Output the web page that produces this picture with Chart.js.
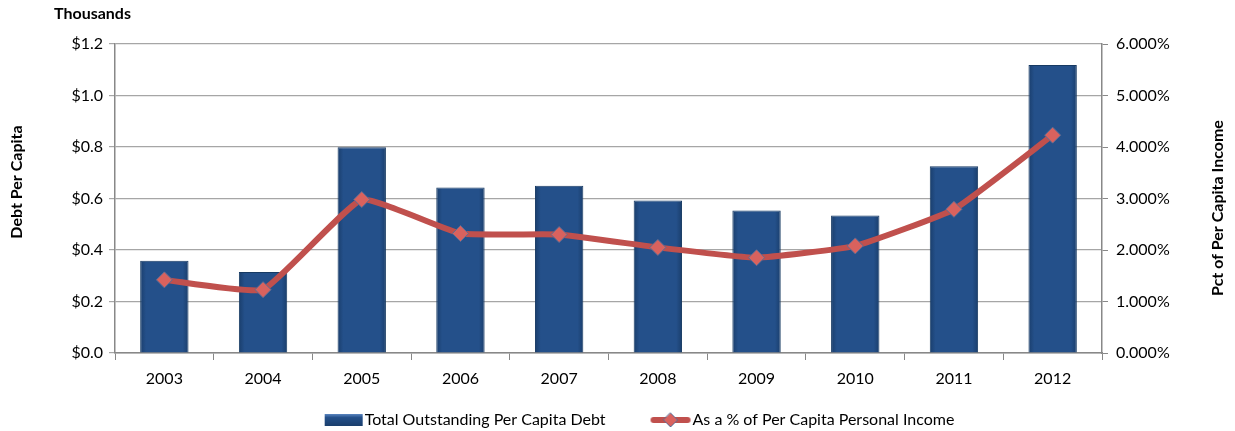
<!DOCTYPE html>
<html>
<head>
<meta charset="utf-8">
<script src="https://cdn.jsdelivr.net/npm/chart.js@4.4.0/dist/chart.umd.min.js"></script>
<style>
  html, body { margin: 0; padding: 0; background: #fff; }
  #wrap { width: 1235px; height: 431px; }
</style>
</head>
<body>
<div id="wrap"><canvas id="debt-chart" width="1235" height="431"></canvas></div>
<script>
/**
 * Data
 */
const years = ['2003', '2004', '2005', '2006', '2007', '2008', '2009', '2010', '2011', '2012'];
const debtPerCapita = [0.358, 0.315, 0.799, 0.643, 0.65, 0.592, 0.553, 0.534, 0.725, 1.118];
const pctOfIncome = [1.42, 1.23, 2.98, 2.32, 2.30, 2.05, 1.85, 2.08, 2.79, 4.23];

const unitsText = 'Thousands';
const leftTitle = 'Debt Per Capita';
const rightTitle = 'Pct of Per Capita Income';

/**
 * Helpers
 */
const FONT = 'Lato, "Open Sans", sans-serif';
const BAR_PCT = 0.49;

const barFill = (context) => {
  const chart = context.chart;
  const xs = chart.scales.x;
  if (!xs || !Number.isFinite(xs.width) || xs.width <= 0) return '#24508a';
  const cx = xs.getPixelForValue(context.dataIndex);
  const half = (xs.width / years.length) * BAR_PCT / 2;
  if (!Number.isFinite(cx)) return '#24508a';
  const g = chart.ctx.createLinearGradient(cx - half, 0, cx + half, 0);
  g.addColorStop(0, '#1a3e6c');
  g.addColorStop(0.12, '#24508a');
  g.addColorStop(0.88, '#24508a');
  g.addColorStop(1, '#1a3e6c');
  return g;
};

// legend icons sit at the right end of a wide image so the text follows closely
const makeIcon = (kind) => {
  const c = document.createElement('canvas');
  c.width = 92;
  c.height = 16;
  const x = c.getContext('2d');
  if (kind === 'bar') {
    const g = x.createLinearGradient(0, 2, 0, 14);
    g.addColorStop(0, '#5b86c0');
    g.addColorStop(0.3, '#24508a');
    g.addColorStop(1, '#1a3e6c');
    x.fillStyle = g;
    x.fillRect(52, 2, 38, 12);
  } else {
    const ox = 50;
    x.strokeStyle = '#c0504d';
    x.lineWidth = 6;
    x.lineCap = 'round';
    x.beginPath();
    x.moveTo(ox + 3, 8);
    x.lineTo(ox + 37, 8);
    x.stroke();
    x.fillStyle = '#d9625e';
    x.strokeStyle = '#5a6d96';
    x.lineWidth = 1;
    x.beginPath();
    x.moveTo(ox + 20, 1);
    x.lineTo(ox + 27, 8);
    x.lineTo(ox + 20, 15);
    x.lineTo(ox + 13, 8);
    x.closePath();
    x.fill();
    x.stroke();
  }
  return c;
};

const icons = [makeIcon('bar'), makeIcon('line')];

const extraText = {
  id: 'extraText',
  afterDraw(chart) {
    const ctx = chart.ctx;
    ctx.save();
    ctx.font = 'bold 16px ' + FONT;
    ctx.fillStyle = '#000';
    ctx.textBaseline = 'middle';
    ctx.fillText(unitsText, 54, 14);

    ctx.textAlign = 'center';
    ctx.translate(17, 182);
    ctx.rotate(-Math.PI / 2);
    ctx.fillText(leftTitle, 0, 0);
    ctx.restore();

    ctx.save();
    ctx.font = 'bold 16px ' + FONT;
    ctx.fillStyle = '#000';
    ctx.textBaseline = 'middle';
    ctx.textAlign = 'center';
    ctx.translate(1218, 208);
    ctx.rotate(-Math.PI / 2);
    ctx.fillText(rightTitle, 0, 0);
    ctx.restore();
  }
};

/**
 * Chart
 */
const createGraphic = () => {
  const ctx = document.getElementById('debt-chart').getContext('2d');

  new Chart(ctx, {
    data: {
      labels: years,
      datasets: [
        {
          type: 'bar',
          label: 'Total Outstanding Per Capita Debt',
          data: debtPerCapita,
          yAxisID: 'y',
          backgroundColor: barFill,
          borderColor: '#173a63',
          borderWidth: 1,
          barPercentage: 1,
          categoryPercentage: BAR_PCT,
          order: 1
        },
        {
          type: 'line',
          label: 'As a % of Per Capita Personal Income',
          data: pctOfIncome,
          yAxisID: 'y1',
          borderColor: '#c0504d',
          borderWidth: 6,
          tension: 0.12,
          pointStyle: 'rectRot',
          pointRadius: 8,
          pointBackgroundColor: '#d9625e',
          pointBorderColor: '#5a6d96',
          pointBorderWidth: 1,
          fill: false,
          order: 0
        }
      ]
    },
    options: {
      responsive: false,
      animation: false,
      layout: { padding: { top: 44, left: 0, right: 0, bottom: -7 } },
      plugins: {
        tooltip: { enabled: false },
        legend: {
          position: 'bottom',
          labels: {
            usePointStyle: true,
            pointStyleWidth: 76,
            padding: 3,
            color: '#000',
            font: { family: FONT, size: 16 },
            generateLabels: (chart) => chart.data.datasets.map((ds, i) => ({
              text: ds.label,
              pointStyle: icons[i],
              fillStyle: 'transparent',
              strokeStyle: 'transparent',
              lineWidth: 0,
              datasetIndex: i
            }))
          }
        }
      },
      scales: {
        x: {
          offset: true,
          grid: { offset: true, drawOnChartArea: false, drawTicks: true, tickLength: 7, color: '#888' },
          border: { color: '#888', width: 1.5 },
          ticks: { color: '#000', font: { family: FONT, size: 16 }, padding: 9 },
          afterFit: (s) => { s.height = 56; }
        },
        y: {
          position: 'left',
          min: 0,
          max: 1.2,
          ticks: {
            stepSize: 0.2,
            color: '#000',
            font: { family: FONT, size: 16 },
            padding: 6,
            callback: (v) => '$' + Number(v).toFixed(1)
          },
          grid: { color: '#a6a6a6', lineWidth: 1.2, tickLength: 6 },
          border: { color: '#888', width: 1.5 },
          afterFit: (s) => { s.width = 115; }
        },
        y1: {
          position: 'right',
          min: 0,
          max: 6,
          ticks: {
            stepSize: 1,
            color: '#000',
            font: { family: FONT, size: 16 },
            padding: 8,
            callback: (v) => Number(v).toFixed(3) + '%'
          },
          grid: { drawOnChartArea: false, color: '#888', tickLength: 6 },
          border: { color: '#888', width: 1.5 },
          afterFit: (s) => { s.width = 133; }
        }
      }
    },
    plugins: [extraText]
  });
};

/**
 * Events
 */
document.addEventListener('DOMContentLoaded', () => {
  createGraphic();
});
</script>
</body>
</html>
